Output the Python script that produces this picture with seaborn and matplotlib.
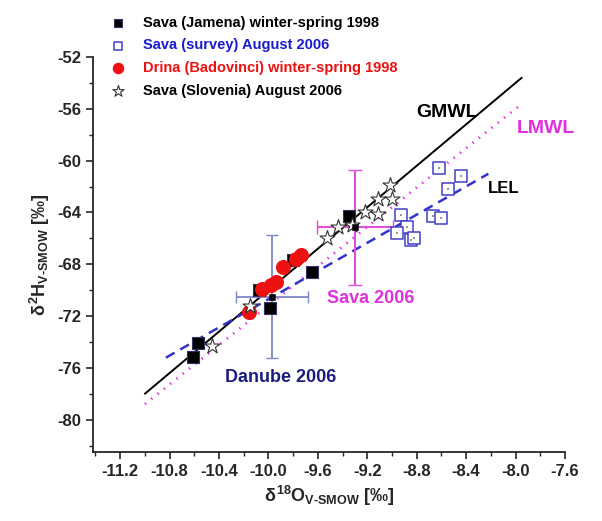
import numpy as np
import pandas as pd
import matplotlib
matplotlib.use('Agg')
import matplotlib.pyplot as plt
import seaborn as sns
from matplotlib.ticker import MultipleLocator, FormatStrFormatter

# data (d18O, d2H)
jamena_x = [-10.61, -10.57, -10.08, -9.99, -9.80, -9.65, -9.35]
jamena_y = [-75.2, -74.1, -70.0, -71.4, -67.7, -68.6, -64.3]
survey_x = [-8.93, -8.88, -8.96, -8.85, -8.82, -8.67, -8.60, -8.55, -8.62, -8.44]
survey_y = [-64.2, -65.1, -65.6, -66.1, -66.0, -64.3, -64.4, -62.2, -60.6, -61.2]
drina_x = [-10.16, -10.05, -9.98, -9.94, -9.88, -9.78, -9.74]
drina_y = [-71.7, -69.9, -69.6, -69.4, -68.2, -67.6, -67.3]
slov_x = [-10.46, -10.15, -9.53, -9.44, -9.32, -9.22, -9.11, -9.11, -9.00, -9.02]
slov_y = [-74.3, -71.2, -66.0, -65.1, -65.0, -64.0, -64.1, -63.0, -63.0, -61.9]

# mean values with spread
danube_mean = (-9.97, -70.5)
danube_err = (0.29, 4.75)
sava_mean = (-9.30, -65.15)
sava_err = (0.31, 4.45)

# lines: slope, intercept, x range
gmwl = (8.0, 10.0, -11.0, -7.95)
lmwl = (7.6, 4.8, -11.0, -7.95)
lel = (5.44, -16.3, -10.83, -8.22)

sns.set_style('ticks')
plt.rcParams['font.family'] = ['Liberation Sans', 'DejaVu Sans']
plt.rcParams['font.weight'] = 'bold'
plt.rcParams['axes.unicode_minus'] = False
plt.rcParams['mathtext.fontset'] = 'custom'
plt.rcParams['mathtext.rm'] = 'Liberation Sans:bold'
plt.rcParams['mathtext.it'] = 'Liberation Sans:bold'
plt.rcParams['mathtext.bf'] = 'Liberation Sans:bold'

fig = plt.figure(figsize=(6.02, 5.21), dpi=100)
ax = fig.add_axes([0.1545, 0.1324, 0.784, 0.7582])

def line_df(p):
    xs = np.array([p[2], p[3]])
    return pd.DataFrame({'x': xs, 'y': p[0] * xs + p[1]})

sns.lineplot(data=line_df(gmwl), x='x', y='y', color='black', lw=1.4, ax=ax)
sns.lineplot(data=line_df(lmwl), x='x', y='y', color='#e030e0', lw=2.0,
             linestyle=(0, (0.5, 2.4)), ax=ax)
sns.lineplot(data=line_df(lel), x='x', y='y', color='#3333cc', lw=1.8,
             linestyle=(0, (4, 2.6)), ax=ax)

# error bars of the means
ax.errorbar(danube_mean[0], danube_mean[1], xerr=danube_err[0], yerr=danube_err[1],
            color='#7f86c8', lw=1.3, capsize=4, fmt='none', zorder=2)
ax.errorbar(sava_mean[0], sava_mean[1], xerr=sava_err[0], yerr=sava_err[1],
            color='#e050d8', lw=1.5, capsize=5, fmt='none', zorder=2)

sns.scatterplot(x=jamena_x, y=jamena_y, marker='s', s=65, color='black',
                edgecolor='#333366', linewidth=0.8, ax=ax, zorder=3,
                label='Sava (Jamena) winter-spring 1998')
sns.scatterplot(x=survey_x, y=survey_y, marker='s', s=70, facecolor='white',
                edgecolor='#4040c8', linewidth=1.1, ax=ax, zorder=3,
                label='Sava (survey) August 2006')
sns.scatterplot(x=survey_x, y=survey_y, marker='s', s=2, color='#999999',
                edgecolor='none', ax=ax, zorder=3, legend=False)
sns.scatterplot(x=drina_x, y=drina_y, marker='o', s=100, color='#ee1111',
                edgecolor='#ee1111', ax=ax, zorder=4,
                label='Drina (Badovinci) winter-spring 1998')
sns.scatterplot(x=slov_x, y=slov_y, marker='*', s=130, facecolor='white',
                edgecolor='#333333', linewidth=0.8, ax=ax, zorder=5,
                label='Sava (Slovenia) August 2006')

# small squares at the means
sns.scatterplot(x=[danube_mean[0], sava_mean[0]], y=[danube_mean[1], sava_mean[1]],
                marker='s', s=25, color='black', edgecolor='black', ax=ax, zorder=6,
                legend=False)

ax.text(-8.80, -56.6, 'GMWL', fontsize=14, fontweight='bold', color='black')
ax.text(-7.99, -57.9, 'LMWL', fontsize=14, fontweight='bold', color='#e030e0')
ax.text(-8.22, -62.5, 'LEL', fontsize=12, fontweight='bold', color='black')
ax.text(-9.525, -71.0, 'Sava 2006', fontsize=13, fontweight='bold', color='#e030e0')
ax.text(-10.35, -77.1, 'Danube 2006', fontsize=13, fontweight='bold', color='#1c1c80')

ax.set_xlim(-11.42, -7.6)
ax.set_ylim(-82.5, -52)
ax.xaxis.set_minor_locator(MultipleLocator(0.2))
ax.set_xticks(np.arange(-11.2, -7.59, 0.4))
ax.xaxis.set_major_formatter(FormatStrFormatter('%.1f'))
ax.yaxis.set_minor_locator(MultipleLocator(2))
ax.set_yticks(np.arange(-80, -51, 4))
ax.tick_params(which='major', direction='out', length=5, width=1.2, labelsize=12)
ax.tick_params(which='minor', direction='out', length=3, width=1.0)
for lab in ax.get_xticklabels() + ax.get_yticklabels():
    lab.set_fontweight('bold')
for sp in ['left', 'bottom']:
    ax.spines[sp].set_linewidth(1.3)
sns.despine(ax=ax)

ax.set_xlabel(r'$\delta^{18}$O$_{\rm V\text{-}SMOW}$ [‰]', fontsize=13, fontweight='bold')
ax.set_ylabel(r'$\delta^{2}$H$_{\rm V\text{-}SMOW}$ [‰]', fontsize=13, fontweight='bold')

leg = ax.legend(loc='upper left', bbox_to_anchor=(0.175, 0.981), bbox_transform=fig.transFigure,
                frameon=False, fontsize=10.5, handletextpad=1.2, labelspacing=0.6,
                borderaxespad=0, handlelength=1.0, markerscale=0.75)
for txt, c in zip(leg.get_texts(), ['black', '#1a1ad0', '#ee1111', 'black']):
    txt.set_color(c)
    txt.set_fontweight('bold')

fig.savefig('out.png', dpi=100)
